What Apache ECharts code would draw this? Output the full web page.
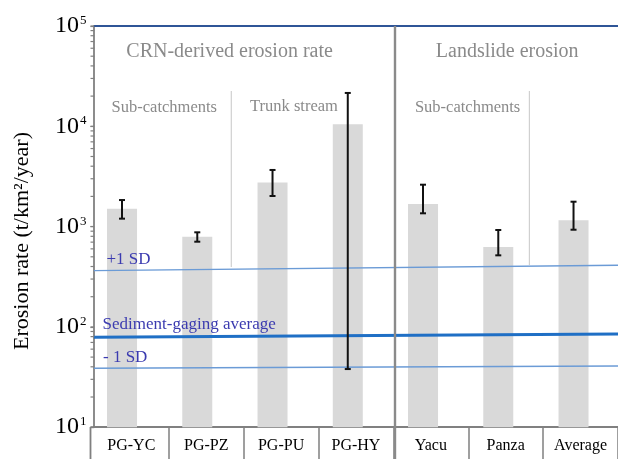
<!DOCTYPE html>
<html>
<head>
<meta charset="utf-8">
<script src="https://cdn.jsdelivr.net/npm/echarts@6/dist/echarts.min.js"></script>
<style>
  html, body { margin: 0; padding: 0; background: #ffffff; }
  #chart { width: 618px; height: 459px; }
</style>
</head>
<body>
<div id="chart"></div>
<script>
// Sample groups and erosion rates (t/km²/year)
const categories = ['PG-YC', 'PG-PZ', 'PG-PU', 'PG-HY', 'Yacu', 'Panza', 'Average'];
const erosionRate = [1510, 790, 2760, 10500, 1680, 626, 1156];
const errorLow = [1200, 707, 2020, 38, 1357, 517, 931];
const errorHigh = [1840, 877, 3670, 21500, 2617, 925, 1771];

// Sediment-gaging reference lines: value at the left and right end of the plot
const gagingAverage = [78.8, 85];
const gagingPlusSD = [364, 412];
const gagingMinusSD = [38.7, 40.8];

// Log axis: decades 10^1 .. 10^5
const yMin = 10;
const yMax = 100000;
const minorTickValues = [];
for (let d = yMin; d < yMax; d *= 10) {
  for (let m = 1; m <= 9; m++) minorTickValues.push(d * m);
}
minorTickValues.push(yMax);

const SERIF = '"Liberation Serif", "DejaVu Serif", serif';
const AXIS_GRAY = '#808080';
const AXIS_OFFSET = 3.4;

const chart = echarts.init(document.getElementById('chart'));

const option = {
  animation: false,
  backgroundColor: '#ffffff',
  grid: [
    { left: 93.9, top: 26, width: 527.1, height: 401.2 },   // frame, labels, reference lines
    { left: 84.4, top: 26, width: 526.75, height: 401.2 }   // bars and error bars
  ],
  xAxis: [
    {
      type: 'category',
      gridIndex: 0,
      data: categories,
      boundaryGap: true,
      axisLine: { lineStyle: { color: AXIS_GRAY, width: 1.8 } },
      axisTick: {
        show: true,
        length: 34,
        interval: function (idx) { return idx > 0; },
        lineStyle: { color: AXIS_GRAY, width: 1.5 }
      },
      axisLabel: {
        interval: 0,
        margin: 11,
        fontFamily: SERIF,
        fontSize: 16,
        color: '#000000'
      },
      splitLine: { show: false }
    },
    {
      type: 'category',
      gridIndex: 1,
      data: categories,
      show: false
    },
    {
      type: 'value',
      gridIndex: 0,
      min: 0,
      max: categories.length,
      show: false
    }
  ],
  yAxis: [
    {
      type: 'log',
      gridIndex: 0,
      logBase: 10,
      min: yMin,
      max: yMax,
      offset: AXIS_OFFSET,
      splitNumber: 4,
      axisLine: { show: true, lineStyle: { color: AXIS_GRAY, width: 1.8 } },
      axisTick: { show: true, inside: false, length: 3.5, lineStyle: { color: AXIS_GRAY, width: 1.2 } },
      splitLine: { show: false },
      axisLabel: {
        margin: 4,
        formatter: function (v) {
          const p = Math.round(Math.log10(v));
          return '{b|10}{s|' + p + '}';
        },
        rich: {
          b: { fontFamily: SERIF, fontSize: 24, lineHeight: 24, color: '#000000', verticalAlign: 'bottom' },
          s: { fontFamily: SERIF, fontSize: 13, lineHeight: 14, color: '#000000', verticalAlign: 'top', padding: [0, 0, 0, 1] }
        }
      }
    },
    {
      type: 'log',
      gridIndex: 1,
      logBase: 10,
      min: yMin,
      max: yMax,
      show: false
    }
  ],
  series: [
    {
      name: 'Erosion rate',
      type: 'bar',
      xAxisIndex: 1,
      yAxisIndex: 1,
      data: erosionRate,
      barWidth: 30,
      itemStyle: { color: '#d9d9d9' },
      clip: true,
      silent: true
    },
    {
      name: 'Error',
      type: 'custom',
      xAxisIndex: 1,
      yAxisIndex: 1,
      data: categories.map(function (c, i) { return [i, errorLow[i], errorHigh[i]]; }),
      encode: { x: 0, y: [1, 2] },
      silent: true,
      z: 5,
      renderItem: function (params, api) {
        const i = api.value(0);
        const lo = api.coord([i, api.value(1)]);
        const hi = api.coord([i, api.value(2)]);
        const cap = 3;
        const style = { stroke: '#111111', lineWidth: 2, fill: null };
        return {
          type: 'group',
          children: [
            { type: 'line', shape: { x1: lo[0], y1: lo[1], x2: hi[0], y2: hi[1] }, style: style },
            { type: 'line', shape: { x1: hi[0] - cap, y1: hi[1], x2: hi[0] + cap, y2: hi[1] }, style: style },
            { type: 'line', shape: { x1: lo[0] - cap, y1: lo[1], x2: lo[0] + cap, y2: lo[1] }, style: style }
          ]
        };
      }
    },
    {
      name: 'Log minor ticks',
      type: 'custom',
      xAxisIndex: 2,
      yAxisIndex: 0,
      data: minorTickValues.map(function (v) { return [0, v]; }),
      silent: true,
      clip: false,
      z: 6,
      renderItem: function (params, api) {
        const p = api.coord([0, api.value(1)]);
        const x0 = p[0] - AXIS_OFFSET;
        return {
          type: 'line',
          shape: { x1: x0, y1: p[1], x2: x0 + 3.8, y2: p[1] },
          style: { stroke: AXIS_GRAY, lineWidth: 1.2 }
        };
      }
    },
    {
      name: '+1 SD',
      type: 'line',
      xAxisIndex: 2,
      yAxisIndex: 0,
      data: [[0, gagingPlusSD[0]], [categories.length, gagingPlusSD[1]]],
      symbol: 'none',
      silent: true,
      lineStyle: { color: '#6b9bd6', width: 1.4 },
      z: 4
    },
    {
      name: 'Sediment-gaging average',
      type: 'line',
      xAxisIndex: 2,
      yAxisIndex: 0,
      data: [[0, gagingAverage[0]], [categories.length, gagingAverage[1]]],
      symbol: 'none',
      silent: true,
      lineStyle: { color: '#1f6fc5', width: 3 },
      z: 4
    },
    {
      name: '-1 SD',
      type: 'line',
      xAxisIndex: 2,
      yAxisIndex: 0,
      data: [[0, gagingMinusSD[0]], [categories.length, gagingMinusSD[1]]],
      symbol: 'none',
      silent: true,
      lineStyle: { color: '#6b9bd6', width: 1.4 },
      z: 4,
      markLine: {
        silent: true,
        symbol: 'none',
        label: { show: false },
        lineStyle: { color: '#2f5597', width: 2, type: 'solid' },
        data: [{ yAxis: yMax }]
      }
    }
  ],
  graphic: [
    // y axis title
    { type: 'text', z: 10, x: 22, y: 241, rotation: Math.PI / 2,
      style: { text: 'Erosion rate (t/km²/year)', x: 0, y: 0, align: 'center', verticalAlign: 'middle', fontFamily: SERIF, fontSize: 22, fill: '#000000' } },
    // section divider between CRN and landslide groups
    { type: 'line', z: 10, shape: { x1: 395, y1: 26, x2: 395, y2: 459 }, style: { stroke: '#8a8a8a', lineWidth: 2.4 } },
    // sub-section dividers
    { type: 'line', z: 1, shape: { x1: 231.3, y1: 91, x2: 231.3, y2: 267 }, style: { stroke: '#d0d0d0', lineWidth: 1.2 } },
    { type: 'line', z: 1, shape: { x1: 529.4, y1: 91, x2: 529.4, y2: 265 }, style: { stroke: '#d0d0d0', lineWidth: 1.2 } },
    // y axis continues through the label row
    { type: 'line', z: 10, shape: { x1: 90.5, y1: 427, x2: 90.5, y2: 459 }, style: { stroke: AXIS_GRAY, lineWidth: 1.8 } },
    { type: 'line', z: 10, shape: { x1: 90.5, y1: 427.2, x2: 94.5, y2: 427.2 }, style: { stroke: AXIS_GRAY, lineWidth: 1.8 } },
    // section headings
    { type: 'text', z: 10, style: { text: 'CRN-derived erosion rate', x: 229.6, y: 51.5, align: 'center', verticalAlign: 'middle', fontFamily: SERIF, fontSize: 20, fill: '#8a8a8a' } },
    { type: 'text', z: 10, style: { text: 'Landslide erosion', x: 507.2, y: 51.5, align: 'center', verticalAlign: 'middle', fontFamily: SERIF, fontSize: 20, fill: '#8a8a8a' } },
    { type: 'text', z: 10, style: { text: 'Sub-catchments', x: 164.3, y: 108, align: 'center', verticalAlign: 'middle', fontFamily: SERIF, fontSize: 16.5, fill: '#8a8a8a' } },
    { type: 'text', z: 10, style: { text: 'Trunk stream', x: 294, y: 107, align: 'center', verticalAlign: 'middle', fontFamily: SERIF, fontSize: 16.5, fill: '#8a8a8a' } },
    { type: 'text', z: 10, style: { text: 'Sub-catchments', x: 467.6, y: 108, align: 'center', verticalAlign: 'middle', fontFamily: SERIF, fontSize: 16.5, fill: '#8a8a8a' } },
    // reference line labels
    { type: 'text', z: 10, style: { text: '+1 SD', x: 106.5, y: 259.5, align: 'left', verticalAlign: 'middle', fontFamily: SERIF, fontSize: 17, fill: '#3b3bb0' } },
    { type: 'text', z: 10, style: { text: 'Sediment-gaging average', x: 102.5, y: 325, align: 'left', verticalAlign: 'middle', fontFamily: SERIF, fontSize: 17, fill: '#3b3bb0' } },
    { type: 'text', z: 10, style: { text: '- 1 SD', x: 103, y: 357.5, align: 'left', verticalAlign: 'middle', fontFamily: SERIF, fontSize: 17, fill: '#3b3bb0' } }
  ]
};

chart.setOption(option);
</script>
</body>
</html>
